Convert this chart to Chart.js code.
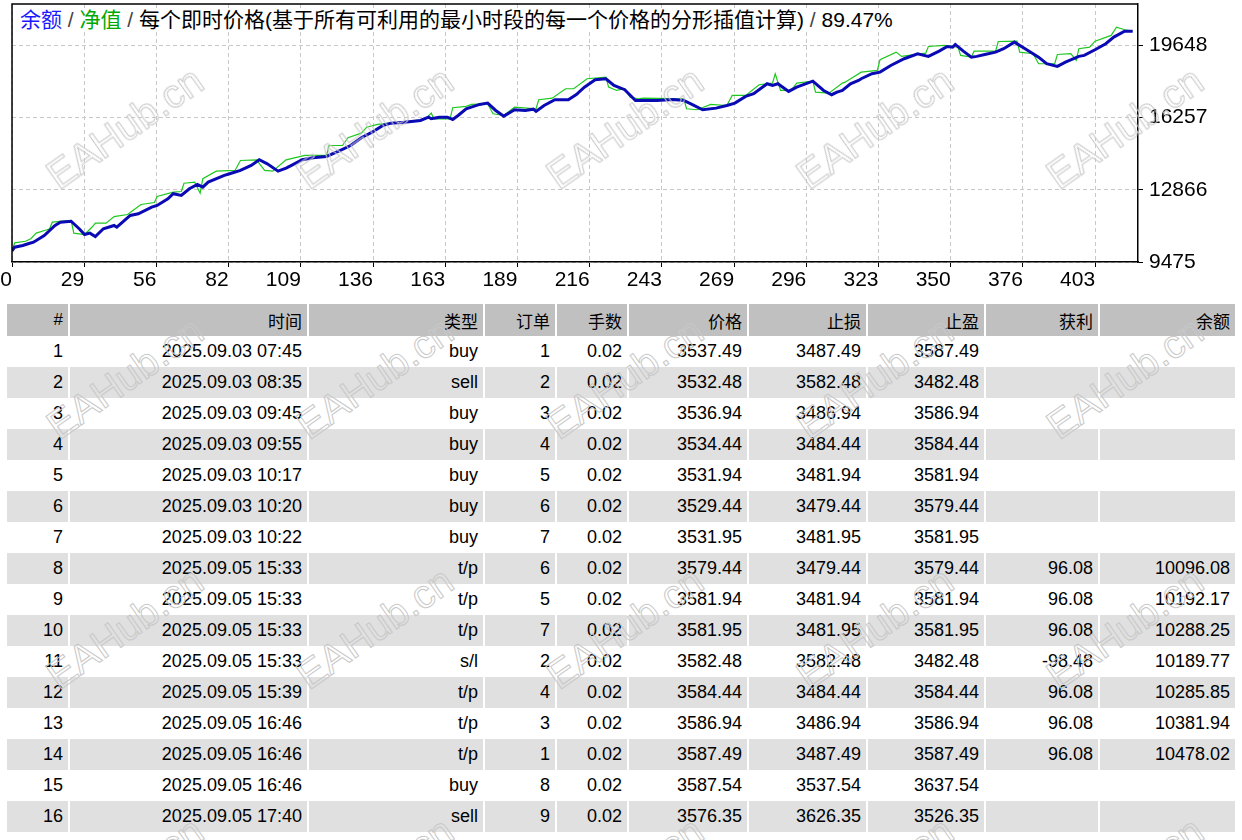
<!DOCTYPE html>
<html>
<head>
<meta charset="utf-8">
<script src="https://cdn.jsdelivr.net/npm/chart.js@4.4.1/dist/chart.umd.min.js"></script>
<style>
body{margin:0;background:#fff;width:1242px;height:840px;overflow:hidden;position:relative;font-family:"Liberation Sans","Noto Sans CJK SC",sans-serif;}
#chartBox{position:absolute;left:0;top:0;width:1242px;height:300px;}
#title{position:absolute;left:18px;top:8px;font-size:21px;line-height:24px;background:#fff;padding:0 2px;color:#000;white-space:nowrap;}
#title .b{color:#1a1aff}
#title .g{color:#00a800}
#title .s{color:#444}
table{position:absolute;left:7px;top:304px;width:1228px;border-collapse:collapse;table-layout:fixed;font-size:18px;color:#000;}
th,td{text-align:right;padding:0 5px 0 0;border-left:2px solid #fff;white-space:nowrap;overflow:hidden;}
th:first-child,td:first-child{border-left:none}
th{background:#c0c0c0;height:32px;font-weight:normal;font-size:17px}
td{height:31px}
tr.alt td{background:#e0e0e0}
.wm{position:absolute;font-family:"Liberation Sans",sans-serif;font-size:40px;color:transparent;-webkit-text-stroke:1px #c8c8c8;transform:translate(-50%,-50%) rotate(-35deg);pointer-events:none;white-space:nowrap;z-index:5}
</style>
</head>
<body>
<div id="chartBox"><canvas id="c"></canvas></div>
<div id="title"><span class="b">余额</span><span class="s"> / </span><span class="g">净值</span><span class="s"> / </span>每个即时价格(基于所有可利用的最小时段的每一个价格的分形插值计算)<span class="s"> / </span>89.47%</div>
<table id="deals">
<colgroup>
<col style="width:62px"><col style="width:239px"><col style="width:176px"><col style="width:72px"><col style="width:72px">
<col style="width:120px"><col style="width:119px"><col style="width:118px"><col style="width:114px"><col style="width:136px">
</colgroup>
<thead><tr id="head"></tr></thead>
<tbody id="rows"></tbody>
</table>
<script>
// balance (blue) and equity (green) curves
const balanceX = [0,1,4,6,8,12,16,18,22,25,27,29,31,34,38,39,44,47,52,54,58,60,63,66,69,71,73,79,81,85,89,92,95,99,102,104,108,112,117,122,126,130,134,138,141,146,152,155,156,159,162,164,166,169,174,177,180,183,187,191,194,195,198,202,207,210,213,217,221,224,228,232,240,246,250,253,257,262,266,269,273,276,281,283,285,289,292,298,302,305,307,309,312,315,316,320,323,327,332,337,341,345,348,350,351,354,357,359,362,366,369,373,377,382,385,389,392,397,399,403,407,410,414,417];
const balanceY = [10000,10170,10250,10330,10405,10720,11190,11345,11390,11035,10765,10830,10670,11035,11190,11110,11660,11740,12050,12130,12445,12680,12600,12915,13115,12990,13225,13540,13620,13775,14010,14275,14085,13740,13880,14010,14275,14370,14430,14710,14945,15310,15570,15885,15995,16040,16120,16275,16200,16275,16275,16170,16355,16670,16875,16935,16590,16325,16625,16590,16650,16545,16825,17095,17095,17340,17685,18035,18080,17765,17565,17060,17060,17110,17060,16875,16625,16700,16825,16935,17250,17375,17845,17765,17845,17485,17685,17965,17530,17330,17450,17530,17845,18000,18080,18315,18390,18705,19020,19255,19130,19375,19595,19560,19690,19375,19095,19130,19220,19330,19490,19800,19490,19095,18785,18660,18860,19130,19175,19440,19725,20035,20315,20315];

const equityX = [0,1,5,7,9,13,14,15,22,23,27,30,31,35,38,43,45,48,53,54,60,63,64,68,70,71,76,83,85,91,94,97,102,109,117,118,123,125,130,132,136,141,146,152,154,156,157,163,164,169,171,177,179,183,187,195,196,201,206,209,214,221,222,225,228,230,233,235,250,251,255,260,266,268,273,278,283,284,286,290,292,298,299,304,309,310,316,322,323,329,331,340,341,347,352,353,357,358,366,367,374,375,380,382,388,389,394,396,397,401,403,409,411,414,417];
const equityY = [10000,10375,10450,10565,10830,10990,11035,11345,11425,10830,10765,11140,11300,11300,11610,11705,11895,12175,12270,12550,12755,12785,13175,13225,12705,13385,13740,13775,14240,14275,13775,13740,14270,14480,14480,14945,14945,15310,15525,15805,15935,15995,16060,16140,16200,16465,16200,16200,16720,16780,16875,16905,16435,16355,16745,16670,17095,17170,17610,17610,18080,18155,17685,17530,17610,17215,17140,17170,17140,16670,16625,16875,16825,17295,17295,17800,17875,18315,17530,17530,17875,17965,17450,17405,17875,17920,18390,18470,18970,19330,19130,19280,19595,19645,19565,19175,19095,19375,19375,19830,19845,19330,19255,18785,18785,19220,19255,18940,19490,19565,19845,20115,20505,20380,20315];

const xTickLabels = ['0','29','56','82','109','136','163','189','216','243','269','296','323','350','376','403'];
const xTickStep = 26.87;
const yTickValues = [9475, 12866, 16257, 19648];

// deals table
const colHeads = ['#','时间','类型','订单','手数','价格','止损','止盈','获利','余额'];
const dealNo = [1,2,3,4,5,6,7,8,9,10,11,12,13,14,15,16];
const dealTime = ['2025.09.03 07:45','2025.09.03 08:35','2025.09.03 09:45','2025.09.03 09:55','2025.09.03 10:17','2025.09.03 10:20','2025.09.03 10:22','2025.09.05 15:33','2025.09.05 15:33','2025.09.05 15:33','2025.09.05 15:33','2025.09.05 15:39','2025.09.05 16:46','2025.09.05 16:46','2025.09.05 16:46','2025.09.05 17:40'];
const dealType = ['buy','sell','buy','buy','buy','buy','buy','t/p','t/p','t/p','s/l','t/p','t/p','t/p','buy','sell'];
const dealOrder = [1,2,3,4,5,6,7,6,5,7,2,4,3,1,8,9];
const dealLots = ['0.02','0.02','0.02','0.02','0.02','0.02','0.02','0.02','0.02','0.02','0.02','0.02','0.02','0.02','0.02','0.02'];
const dealPrice = ['3537.49','3532.48','3536.94','3534.44','3531.94','3529.44','3531.95','3579.44','3581.94','3581.95','3582.48','3584.44','3586.94','3587.49','3587.54','3576.35'];
const dealSL = ['3487.49','3582.48','3486.94','3484.44','3481.94','3479.44','3481.95','3479.44','3481.94','3481.95','3582.48','3484.44','3486.94','3487.49','3537.54','3626.35'];
const dealTP = ['3587.49','3482.48','3586.94','3584.44','3581.94','3579.44','3581.95','3579.44','3581.94','3581.95','3482.48','3584.44','3586.94','3587.49','3637.54','3526.35'];
const dealProfit = ['','','','','','','','96.08','96.08','96.08','-98.48','96.08','96.08','96.08','',''];
const dealBalance = ['','','','','','','','10096.08','10192.17','10288.25','10189.77','10285.85','10381.94','10478.02','',''];

const head = document.getElementById('head');
colHeads.forEach(h => {
    const th = document.createElement('th');
    th.textContent = h;
    head.appendChild(th);
});
const body = document.getElementById('rows');
dealNo.forEach((n, i) => {
    const tr = document.createElement('tr');
    if (i % 2 === 1) tr.className = 'alt';
    [n, dealTime[i], dealType[i], dealOrder[i], dealLots[i], dealPrice[i], dealSL[i], dealTP[i], dealProfit[i], dealBalance[i]].forEach(v => {
        const td = document.createElement('td');
        td.textContent = v;
        tr.appendChild(td);
    });
    body.appendChild(tr);
});

// watermark
for (let i = 0; i < 5; i++) {
    for (let j = 0; j < 4; j++) {
        const d = document.createElement('div');
        d.className = 'wm';
        d.textContent = 'EAHub.cn';
        d.style.left = (125 + 250 * i) + 'px';
        d.style.top = (128 + 250 * j) + 'px';
        document.body.appendChild(d);
    }
}

// black frame on top and left of the plot
const framePlugin = {
    id: 'frame',
    afterDraw(chart) {
        const { ctx, chartArea: a } = chart;
        ctx.save();
        ctx.strokeStyle = '#000';
        ctx.lineWidth = 1.5;
        ctx.beginPath();
        ctx.moveTo(a.left, a.bottom);
        ctx.lineTo(a.left, a.top);
        ctx.lineTo(a.right, a.top);
        ctx.stroke();
        ctx.restore();
    }
};

const gridColor = '#c8c8c8';
const axisFont = { family: 'Liberation Sans', size: 21 };

new Chart(document.getElementById('c'), {
    type: 'line',
    data: {
        datasets: [{
            label: '余额',
            data: balanceX.map((x, i) => ({ x: x, y: balanceY[i] })),
            borderColor: '#0a0ab4',
            borderWidth: 3,
            pointRadius: 0,
            tension: 0
        }, {
            label: '净值',
            data: equityX.map((x, i) => ({ x: x, y: equityY[i] })),
            borderColor: '#1ec81e',
            borderWidth: 1.2,
            pointRadius: 0,
            tension: 0
        }]
    },
    options: {
        responsive: true,
        maintainAspectRatio: false,
        animation: false,
        layout: { padding: { left: 12, top: 4, right: 0, bottom: 0 } },
        plugins: { legend: { display: false }, tooltip: { enabled: false } },
        scales: {
            x: {
                type: 'linear',
                min: 0,
                max: 419,
                afterBuildTicks: s => { s.ticks = xTickLabels.map((l, i) => ({ value: i * xTickStep })); },
                afterFit: s => { s.height = 38; s.paddingLeft = 0; s.paddingRight = 0; },
                ticks: {
                    callback: (v, i) => xTickLabels[i],
                    align: 'end',
                    maxRotation: 0,
                    autoSkip: false,
                    padding: 1,
                    color: '#000',
                    font: axisFont
                },
                grid: { color: gridColor, tickColor: '#000', tickLength: 5, tickBorderDash: [] },
                border: { display: true, color: '#000', width: 1.5, dash: [4, 3] }
            },
            y: {
                position: 'right',
                min: 9475,
                max: 21590,
                afterBuildTicks: s => { s.ticks = yTickValues.map(v => ({ value: v })); },
                afterFit: s => { s.width = 104; s.paddingTop = 0; s.paddingBottom = 0; },
                ticks: {
                    callback: v => String(v),
                    padding: 6,
                    color: '#000',
                    font: axisFont
                },
                grid: { color: gridColor, tickColor: '#000', tickLength: 5, tickBorderDash: [] },
                border: { display: true, color: '#000', width: 1.5, dash: [4, 3] }
            }
        }
    },
    plugins: [framePlugin]
});
</script>
</body>
</html>
